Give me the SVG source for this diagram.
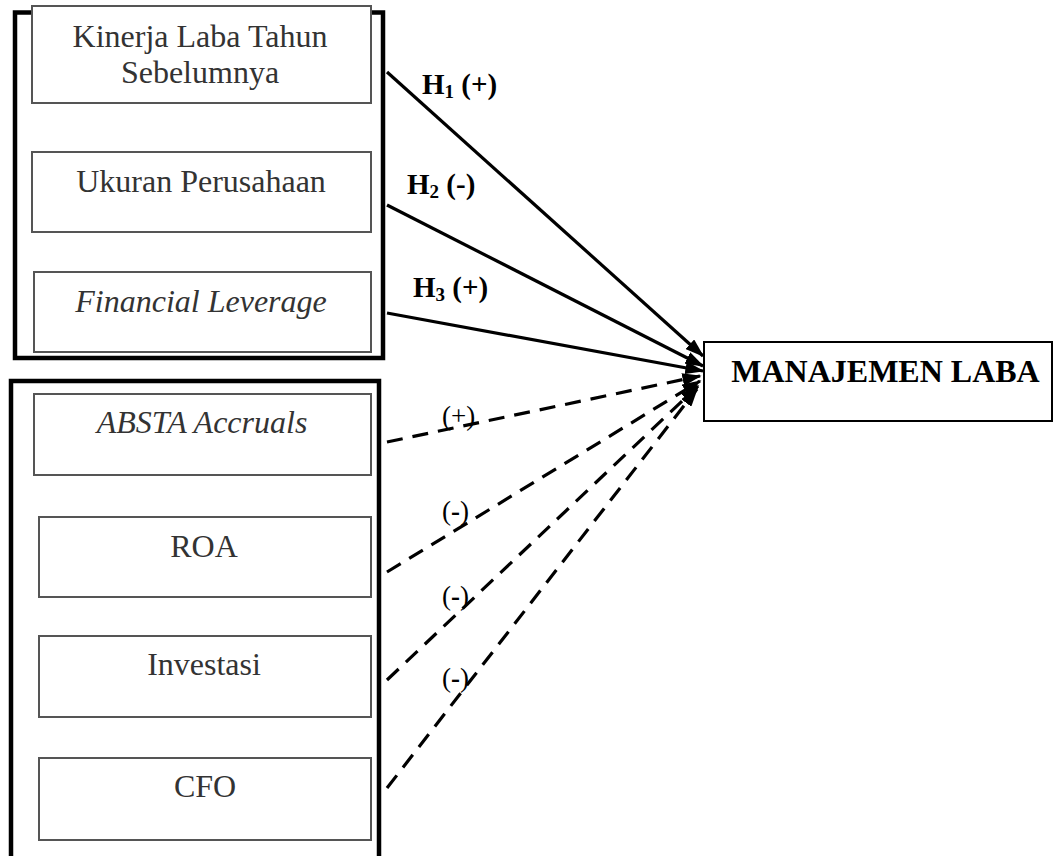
<svg xmlns="http://www.w3.org/2000/svg" width="1054" height="856" viewBox="0 0 1054 856">
<style>
.frame{fill:none;stroke:#000;stroke-width:4.5}
.box{fill:#fff;stroke:#555;stroke-width:2}
.lbl{font-family:"Liberation Serif","Times New Roman",serif;font-size:32px;fill:#333;text-anchor:middle}
.it{font-style:italic}
.main{font-family:"Liberation Serif","Times New Roman",serif;font-size:32px;font-weight:bold;fill:#000;text-anchor:middle}
.h{font-family:"Liberation Serif","Times New Roman",serif;font-size:29px;font-weight:bold;fill:#000}
.s{font-family:"Liberation Serif","Times New Roman",serif;font-size:27px;fill:#000}
.solid{fill:none;stroke:#000;stroke-width:3.2;marker-end:url(#ah)}
.dash{fill:none;stroke:#000;stroke-width:3.2;stroke-dasharray:16 10;marker-end:url(#ah)}
</style>
<defs>
<marker id="ah" markerWidth="6" markerHeight="4" refX="5.5" refY="2" orient="auto" markerUnits="strokeWidth">
<path d="M0,0 L6,2 L0,4 Z" fill="#000"/>
</marker>
</defs>
<rect width="1054" height="856" fill="#fff"/>
<g id="group1">
<rect class="frame" x="15" y="12.5" width="368" height="345.5"/>
</g>
<g id="group2">
<rect class="frame" x="11" y="381" width="368" height="490"/>
</g>
<g id="kinerja">
<rect class="box" x="32" y="6" width="339" height="97"/>
<text class="lbl" x="200" y="47">Kinerja Laba Tahun</text>
<text class="lbl" x="200" y="83">Sebelumnya</text>
</g>
<g id="ukuran">
<rect class="box" x="32" y="152" width="339" height="80"/>
<text class="lbl" x="201" y="192">Ukuran Perusahaan</text>
</g>
<g id="leverage">
<rect class="box" x="34" y="272" width="337" height="80"/>
<text class="lbl it" x="201" y="312">Financial Leverage</text>
</g>
<g id="absta">
<rect class="box" x="34" y="394" width="337" height="81"/>
<text class="lbl it" x="202" y="433">ABSTA Accruals</text>
</g>
<g id="roa">
<rect class="box" x="39" y="517" width="332" height="80"/>
<text class="lbl" x="204" y="557">ROA</text>
</g>
<g id="investasi">
<rect class="box" x="39" y="636" width="332" height="81"/>
<text class="lbl" x="204" y="675">Investasi</text>
</g>
<g id="cfo">
<rect class="box" x="39" y="758" width="332" height="82"/>
<text class="lbl" x="205" y="797">CFO</text>
</g>
<g id="manajemen">
<rect x="704" y="342" width="348" height="79" fill="#fff" stroke="#000" stroke-width="2"/>
<text class="main" x="885.5" y="382">MANAJEMEN LABA</text>
</g>
<g id="connectors">
<path class="solid" d="M387,72 L703,356"/>
<path class="solid" d="M387,205 L703,366"/>
<path class="solid" d="M387,313 L703,371"/>
<path class="dash" d="M387,442 L700,376"/>
<path class="dash" d="M387,572 L700,381"/>
<path class="dash" d="M387,680 L698,386"/>
<path class="dash" d="M387,788 L697,389"/>
</g>
<g id="labels">
<text class="h" x="422" y="94">H<tspan font-size="19" dy="4">1</tspan><tspan dy="-4"> (+)</tspan></text>
<text class="h" x="407" y="194">H<tspan font-size="19" dy="4">2</tspan><tspan dy="-4"> (-)</tspan></text>
<text class="h" x="413" y="297">H<tspan font-size="19" dy="4">3</tspan><tspan dy="-4"> (+)</tspan></text>
<text class="s" x="442" y="425">(+)</text>
<text class="s" x="442" y="520">(<tspan font-weight="bold">-</tspan>)</text>
<text class="s" x="442" y="605">(<tspan font-weight="bold">-</tspan>)</text>
<text class="s" x="442" y="687">(<tspan font-weight="bold">-</tspan>)</text>
</g>
</svg>
